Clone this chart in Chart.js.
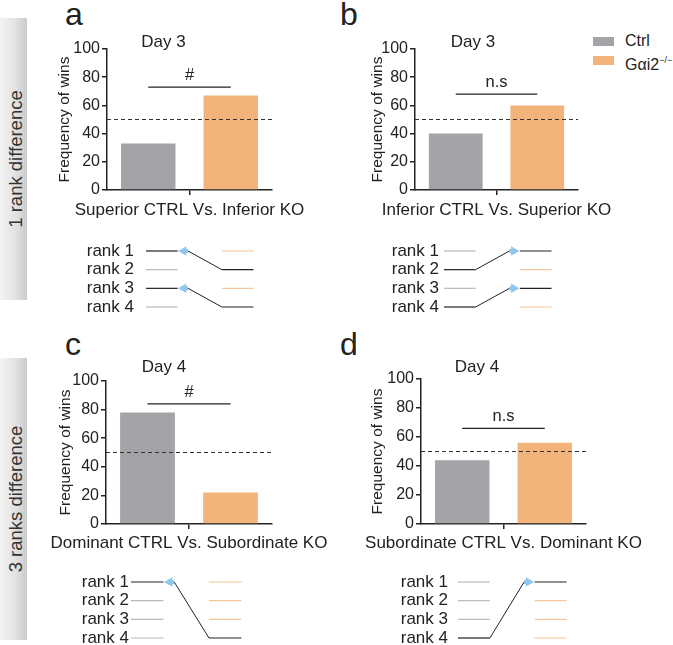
<!DOCTYPE html>
<html>
<head>
<meta charset="utf-8">
<script src="https://cdn.jsdelivr.net/npm/chart.js@4.4.1/dist/chart.umd.min.js"></script>
<style>
  body { margin: 0; width: 673px; height: 645px; position: relative; overflow: hidden; background: #fff;
         font-family: "Liberation Sans", Arial, sans-serif; color: #222; }
  canvas, .abs { position: absolute; }
  .letter { font-size: 32px; line-height: 32px; }
  .band { left: 0; width: 27px; background: linear-gradient(to right, #f4f4f4 0%, #e3e3e3 55%, #cbcbcb 100%); }
  .band span { position: absolute; left: 16px; top: 50%; transform: translate(-50%, -50%) rotate(-90deg);
               white-space: nowrap; font-size: 18.5px; color: #333; }
  .swatch { width: 21px; height: 9px; }
  .legtext { font-size: 16px; line-height: 20px; white-space: nowrap; }
  .legtext sup { font-size: 9px; vertical-align: 7px; }
</style>
</head>
<body>
<div class="abs band" style="top:18px;height:282px"><span>1 rank difference</span></div>
<div class="abs band" style="top:358px;height:282px"><span>3 ranks difference</span></div>

<div class="abs letter" style="left:65px;top:-2px">a</div>
<div class="abs letter" style="left:340px;top:-2px">b</div>
<div class="abs letter" style="left:65px;top:328px">c</div>
<div class="abs letter" style="left:340px;top:328px">d</div>

<div class="abs swatch" style="left:593px;top:37px;background:#a4a3a8"></div>
<div class="abs legtext" style="left:625px;top:31px">Ctrl</div>
<div class="abs swatch" style="left:593px;top:56px;background:#f2b47b"></div>
<div class="abs legtext" style="left:625px;top:50px">Gαi2<sup>−/−</sup></div>

<script>
Chart.defaults.font.family = '"Liberation Sans", Arial, sans-serif';
Chart.defaults.color = '#222';
Chart.defaults.animation = false;

// data
const comparisons = [
  "Superior CTRL Vs. Inferior KO",
  "Inferior CTRL Vs. Superior KO",
  "Dominant CTRL Vs. Subordinate KO",
  "Subordinate CTRL Vs. Dominant KO",
];
const days = ["Day 3", "Day 3", "Day 4", "Day 4"];
const ctrlWins = [33, 40, 78, 44];
const koWins = [67, 60, 22, 56];
const chanceLevel = 50;
const sigLabels = ["#", "n.s", "#", "n.s"];
const sigHeights = [73, 68, 84, 66];
const yTicks = [0, 20, 40, 60, 80, 100];
const rankValues = [1, 2, 3, 4];
const rankLabels = ["rank 1", "rank 2", "rank 3", "rank 4"];
const ctrlFightRanks = [[1, 3], [2, 4], [1], [4]];
const koFightRanks = [[2, 4], [1, 3], [4], [1]];

const GRAY = "#a4a3a8";
const ORANGE = "#f2b47b";
const ARROW = "#8fc6ee";
const INK = "#222";

// where each panel sits on the page
const barLayout = [
  { titleX: 64, left: 107, right: 272, top: 49, bottom: 195, dayY: 42, labelY: 215 },
  { titleX: 377, left: 415, right: 578, top: 49, bottom: 195, dayY: 42, labelY: 215 },
  { titleX: 65, left: 106, right: 272, top: 381, bottom: 528, dayY: 367, labelY: 547 },
  { titleX: 377, left: 421, right: 586, top: 379, bottom: 528, dayY: 367, labelY: 547 },
];
const rankLayout = [
  { labelLeft: 86, left: 146, right: 255, row1: 251, gap: 12 },
  { labelLeft: 392, left: 444, right: 553, row1: 251, gap: 5 },
  { labelLeft: 81, left: 131, right: 243, row1: 582, gap: 2 },
  { labelLeft: 401, left: 458, right: 568, row1: 582, gap: 10 },
];

function addCanvas(left, top, w, h) {
  const c = document.createElement("canvas");
  c.width = w;
  c.height = h;
  c.style.left = left + "px";
  c.style.top = top + "px";
  document.body.appendChild(c);
  return c;
}

// chance line + significance bar
const refLines = {
  id: "refLines",
  afterDatasetsDraw(chart, args, opts) {
    const { ctx, chartArea: a, scales: { y } } = chart;
    ctx.save();
    const yc = y.getPixelForValue(opts.chance);
    ctx.strokeStyle = "#333";
    ctx.lineWidth = 1;
    ctx.setLineDash([4, 3]);
    ctx.beginPath();
    ctx.moveTo(a.left, yc);
    ctx.lineTo(a.right, yc);
    ctx.stroke();

    ctx.setLineDash([]);
    const x0 = chart.getDatasetMeta(0).data[0].x;
    const x1 = chart.getDatasetMeta(1).data[0].x;
    const ys = y.getPixelForValue(opts.sigAt);
    ctx.strokeStyle = INK;
    ctx.lineWidth = 1.2;
    ctx.beginPath();
    ctx.moveTo(x0, ys);
    ctx.lineTo(x1, ys);
    ctx.stroke();
    ctx.fillStyle = INK;
    ctx.font = '16.5px "Liberation Sans", Arial, sans-serif';
    ctx.textAlign = "center";
    ctx.textBaseline = "alphabetic";
    ctx.fillText(opts.sigText, (x0 + x1) / 2, ys - 7);
    ctx.restore();
  },
};

// Bar charts
barLayout.forEach((L, i) => {
  const padL = 30;
  const padR = 80;
  const tickLen = 5;
  const axisLeft = Math.round(L.titleX - 9.3);
  const cLeft = axisLeft - padL;
  const cTop = Math.round(L.dayY - 8.5);
  const xPad = L.labelY - L.bottom - tickLen - 10.2;
  const w = L.right + padR - cLeft;
  const h = Math.round(L.bottom + tickLen + xPad + 20.4 + 2) - cTop;
  const cv = addCanvas(cLeft, cTop, w, h);
  new Chart(cv, {
    type: "bar",
    data: {
      labels: [comparisons[i]],
      datasets: [
        { label: "Ctrl", data: [ctrlWins[i]], backgroundColor: GRAY, categoryPercentage: 1.0, barPercentage: 0.66 },
        { label: "Gαi2-/-", data: [koWins[i]], backgroundColor: ORANGE, categoryPercentage: 1.0, barPercentage: 0.66 },
      ],
    },
    options: {
      responsive: false,
      events: [],
      layout: { padding: { left: padL, right: padR, top: 0, bottom: 2 } },
      plugins: {
        legend: { display: false },
        tooltip: { enabled: false },
        title: {
          display: true,
          text: days[i],
          color: INK,
          font: { size: 17, weight: "normal", lineHeight: 1 },
          padding: { top: 0, bottom: L.top - cTop - 17 },
        },
        refLines: { chance: chanceLevel, sigAt: sigHeights[i], sigText: sigLabels[i] },
      },
      scales: {
        x: {
          grid: { offset: false, drawOnChartArea: false, tickLength: tickLen, color: INK, lineWidth: 1.5 },
          border: { color: INK, width: 1.5 },
          ticks: { font: { size: 17 }, padding: xPad, maxRotation: 0, minRotation: 0, autoSkip: false },
          // the long label may spill past the axis ends, like in the figure
          afterFit: (s) => { s.paddingLeft = 0; s.paddingRight = 0; },
        },
        y: {
          min: yTicks[0],
          max: yTicks[yTicks.length - 1],
          afterBuildTicks: (s) => { s.ticks = yTicks.map((v) => ({ value: v })); },
          ticks: { font: { size: 16 }, padding: 2 },
          grid: { drawOnChartArea: false, tickLength: tickLen, color: INK, lineWidth: 1.5 },
          border: { color: INK, width: 1.5 },
          title: { display: true, text: "Frequency of wins", font: { size: 15.5 }, padding: 0 },
          afterFit: (s) => { s.width = L.left - axisLeft; },
        },
      },
    },
    plugins: [refLines],
  });
});

// Rank diagrams
function rankDatasets(i) {
  const ds = [];
  const line = (pts, color, w) =>
    ds.push({ data: pts, borderColor: color, borderWidth: w, showLine: true, pointRadius: 0, pointHoverRadius: 0, clip: false });
  rankValues.forEach((r) => {
    line([{ x: 0, y: r }, { x: 1, y: r }], ctrlFightRanks[i].includes(r) ? INK : "#b9b9b9", 1.2);
    line([{ x: 2.4, y: r }, { x: 3.4, y: r }], koFightRanks[i].includes(r) ? INK : "#f4c699", 1.2);
  });
  ctrlFightRanks[i].forEach((c, j) => {
    const k = koFightRanks[i][j];
    const ctrlUp = c < k; // the higher ranked animal gets the arrow
    const tip = ctrlUp ? 1.05 : 2.35;
    const dir = ctrlUp ? 1 : -1;
    const base = tip + dir * 0.28;
    const head = tip + dir * 0.14;
    const row = ctrlUp ? c : k;
    line(ctrlUp ? [{ x: base, y: c }, { x: 2.4, y: k }] : [{ x: 1, y: c }, { x: base, y: k }], INK, 1);
    ds.push({
      data: [{ x: base, y: row }, { x: head, y: row }],
      borderColor: ARROW,
      borderWidth: 4,
      showLine: true,
      clip: false,
      pointRadius: [0, 5.5],
      pointHoverRadius: 0,
      pointStyle: "triangle",
      pointRotation: ctrlUp ? -90 : 90,
      pointBackgroundColor: ARROW,
      pointBorderWidth: 0,
    });
  });
  return ds;
}

rankLayout.forEach((L, i) => {
  const rowGap = 18.67;
  const areaH = rowGap * 4;
  const areaTop = L.row1 - rowGap / 2;
  const cTop = Math.round(areaTop - 12);
  const padTop = areaTop - cTop;
  const cLeft = L.labelLeft - 6;
  const w = L.right + 4 - cLeft;
  const h = Math.round(padTop + areaH + 12);
  const cv = addCanvas(cLeft, cTop, w, h);
  new Chart(cv, {
    type: "scatter",
    data: { datasets: rankDatasets(i) },
    options: {
      responsive: false,
      events: [],
      layout: { padding: { top: padTop, bottom: h - padTop - areaH, right: 4, left: 0 } },
      plugins: { legend: { display: false }, tooltip: { enabled: false } },
      scales: {
        x: { type: "linear", min: 0, max: 3.4, display: false },
        y: {
          type: "linear",
          min: 0.5,
          max: 4.5,
          reverse: true,
          afterBuildTicks: (s) => { s.ticks = rankValues.map((v) => ({ value: v })); },
          ticks: {
            callback: (v) => rankLabels[rankValues.indexOf(v)],
            font: { size: 17 },
            padding: 0,
            autoSkip: false,
            color: INK,
          },
          // invisible tick marks keep the gap between labels and lines
          grid: { display: true, drawOnChartArea: false, drawTicks: true, tickLength: L.gap, color: "rgba(0,0,0,0)" },
          border: { display: false },
          afterFit: (s) => { s.width = L.left - cLeft; },
        },
      },
    },
  });
});
</script>
</body>
</html>
